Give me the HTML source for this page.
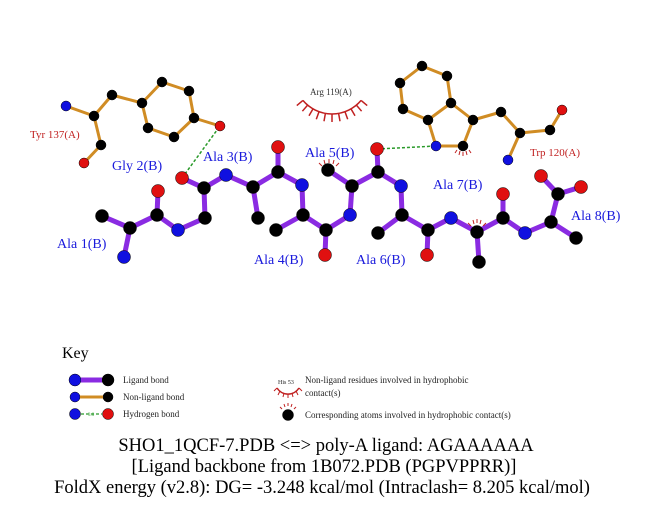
<!DOCTYPE html>
<html><head><meta charset="utf-8"><style>
html,body{margin:0;padding:0;background:#fff;}
svg{display:block;font-family:"Liberation Serif",serif;}
</style></head><body>
<svg width="651" height="511" viewBox="0 0 651 511" xmlns="http://www.w3.org/2000/svg">
<rect width="651" height="511" fill="#fff"/>
<!-- non-ligand bonds -->
<g stroke="#d08c24" stroke-width="3" fill="none" stroke-linejoin="round">
<polyline points="66,106 94,116 101,145 84,163"/>
<polyline points="94,116 112,95 142,103"/>
<polygon points="142,103 162,82 189,91 194,118 174,137 148,128"/>
<line x1="194" y1="118" x2="220" y2="126"/>
<polygon points="422,66 447,76 451,103 428,120 403,109 400,83"/>
<polyline points="451,103 473,120 463,146 436,146 428,120"/>
<polyline points="473,120 501,112 520,133 550,130 562,110"/>
<line x1="520" y1="133" x2="508" y2="160"/>
</g>
<!-- ligand bonds -->
<g stroke="#8a2be2" stroke-width="5" fill="none" stroke-linejoin="round" stroke-linecap="round">
<polyline points="124,257 130,228 157,215 178,230 205,218 204,188 226,175 253,187 278,172 302,185 303,215 326,230 350,215 352,186 378,172 401,186 402,215 428,230 451,218 477,232 503,218 525,233 551,222 558,194"/>
<line x1="102" y1="216" x2="130" y2="228"/>
<line x1="157" y1="215" x2="158" y2="191"/>
<line x1="204" y1="188" x2="182" y2="178"/>
<line x1="253" y1="187" x2="258" y2="218"/>
<line x1="278" y1="172" x2="278" y2="147"/>
<line x1="303" y1="215" x2="276" y2="230"/>
<line x1="326" y1="230" x2="325" y2="255"/>
<line x1="352" y1="186" x2="328" y2="170"/>
<line x1="378" y1="172" x2="377" y2="149"/>
<line x1="402" y1="215" x2="378" y2="233"/>
<line x1="428" y1="230" x2="427" y2="255"/>
<line x1="477" y1="232" x2="479" y2="262"/>
<line x1="503" y1="218" x2="503" y2="194"/>
<line x1="551" y1="222" x2="576" y2="238"/>
<line x1="558" y1="194" x2="541" y2="176"/>
<line x1="558" y1="194" x2="581" y2="187"/>
</g>
<!-- H bonds -->
<g stroke="#2a9a2a" stroke-width="1.5" stroke-dasharray="3,2">
<line x1="182" y1="178" x2="220" y2="126"/>
<line x1="377" y1="149" x2="436" y2="146"/>
</g>
<!-- hydrophobic eyelashes -->
<g stroke="#c02020" stroke-width="1.5" fill="none">
<path d="M302.9,100.4 A38,38 0 0 0 361.1,100.4"/>
<path d="M361.1,100.4L367.2,105.6M356.4,105.1L361.6,111.2M351,108.9L355,115.8M345,111.7L347.7,119.2M338.6,113.4L340,121.3M332,114L332,122M325.4,113.4L324,121.3M319,111.7L316.3,119.2M313,108.9L309,115.8M307.6,105.1L302.4,111.2M302.9,100.4L296.8,105.6"/>
<g stroke-width="1">
<path d="M322,166l-3,-3M325,164l-1,-4M329,163l0,-4M333,164l1,-4M336,166l3,-3"/>
<path d="M457,150l-2,3M460,151l-1,4M463,152l0,4M466,151l1,4M469,150l2,3"/>
<path d="M471,226l-3,-3M474,224l-1,-4M477,223l0,-4M480,224l1,-4M483,226l3,-3"/>
<path d="M282,409l-2,-2M285,407l-1,-3M288,406l0,-3M291,407l1,-3M294,409l2,-2"/>
</g>
<path d="M277,388 A13,13 0 0 0 299,388" stroke-width="1.5"/>
<path d="M277,388l-3,3M280,391l-2,4M284,393l-1,4M288,394l0,4M292,393l1,4M296,391l2,4M299,388l3,3" stroke-width="1"/>
</g>
<!-- atoms -->
<g stroke="#000" stroke-width="0.5">
<g fill="#000">
<circle cx="102" cy="216" r="6.5"/><circle cx="130" cy="228" r="6.5"/><circle cx="157" cy="215" r="6.5"/>
<circle cx="205" cy="218" r="6.5"/><circle cx="204" cy="188" r="6.5"/><circle cx="253" cy="187" r="6.5"/>
<circle cx="258" cy="218" r="6.5"/><circle cx="278" cy="172" r="6.5"/><circle cx="303" cy="215" r="6.5"/>
<circle cx="276" cy="230" r="6.5"/><circle cx="326" cy="230" r="6.5"/><circle cx="352" cy="186" r="6.5"/>
<circle cx="328" cy="170" r="6.5"/><circle cx="378" cy="172" r="6.5"/><circle cx="402" cy="215" r="6.5"/>
<circle cx="378" cy="233" r="6.5"/><circle cx="428" cy="230" r="6.5"/><circle cx="477" cy="232" r="6.5"/>
<circle cx="479" cy="262" r="6.5"/><circle cx="503" cy="218" r="6.5"/><circle cx="551" cy="222" r="6.5"/>
<circle cx="576" cy="238" r="6.5"/><circle cx="558" cy="194" r="6.5"/>
<circle cx="94" cy="116" r="5"/><circle cx="101" cy="145" r="5"/><circle cx="112" cy="95" r="5"/>
<circle cx="142" cy="103" r="5"/><circle cx="162" cy="82" r="5"/><circle cx="189" cy="91" r="5"/>
<circle cx="194" cy="118" r="5"/><circle cx="174" cy="137" r="5"/><circle cx="148" cy="128" r="5"/>
<circle cx="422" cy="66" r="5"/><circle cx="447" cy="76" r="5"/><circle cx="451" cy="103" r="5"/>
<circle cx="428" cy="120" r="5"/><circle cx="403" cy="109" r="5"/><circle cx="400" cy="83" r="5"/>
<circle cx="473" cy="120" r="5"/><circle cx="463" cy="146" r="5"/><circle cx="501" cy="112" r="5"/>
<circle cx="520" cy="133" r="5"/><circle cx="550" cy="130" r="5"/>
<circle cx="108" cy="380" r="6"/><circle cx="108" cy="397" r="5"/><circle cx="288" cy="415" r="5.5"/>
</g>
<g fill="#1010e0">
<circle cx="124" cy="257" r="6.5"/><circle cx="178" cy="230" r="6.5"/><circle cx="226" cy="175" r="6.5"/>
<circle cx="302" cy="185" r="6.5"/><circle cx="350" cy="215" r="6.5"/><circle cx="401" cy="186" r="6.5"/>
<circle cx="451" cy="218" r="6.5"/><circle cx="525" cy="233" r="6.5"/>
<circle cx="66" cy="106" r="5"/><circle cx="436" cy="146" r="5"/><circle cx="508" cy="160" r="5"/>
<circle cx="75" cy="380" r="6"/><circle cx="75" cy="397" r="5"/><circle cx="75" cy="414" r="5.5"/>
</g>
<g fill="#e01010">
<circle cx="158" cy="191" r="6.5"/><circle cx="182" cy="178" r="6.5"/><circle cx="278" cy="147" r="6.5"/>
<circle cx="325" cy="255" r="6.5"/><circle cx="377" cy="149" r="6.5"/><circle cx="427" cy="255" r="6.5"/>
<circle cx="503" cy="194" r="6.5"/><circle cx="541" cy="176" r="6.5"/><circle cx="581" cy="187" r="6.5"/>
<circle cx="84" cy="163" r="5"/><circle cx="220" cy="126" r="5"/><circle cx="562" cy="110" r="5"/>
<circle cx="108" cy="414" r="5.5"/>
</g>
</g>
<!-- key bonds -->
<line x1="81" y1="380" x2="102" y2="380" stroke="#8a2be2" stroke-width="5"/>
<line x1="80" y1="397" x2="103" y2="397" stroke="#d08c24" stroke-width="3"/>
<line x1="81" y1="414" x2="102" y2="414" stroke="#2a9a2a" stroke-width="1.2" stroke-dasharray="3,2"/>
<!-- labels -->
<g font-size="14" fill="#1a1adc">
<text x="112" y="170">Gly 2(B)</text>
<text x="203" y="161">Ala 3(B)</text>
<text x="305" y="157">Ala 5(B)</text>
<text x="433" y="189">Ala 7(B)</text>
<text x="571" y="220">Ala 8(B)</text>
<text x="57" y="248">Ala 1(B)</text>
<text x="254" y="264">Ala 4(B)</text>
<text x="356" y="264">Ala 6(B)</text>
</g>
<g font-size="11" fill="#c02020">
<text x="30" y="138">Tyr 137(A)</text>
<text x="530" y="156">Trp 120(A)</text>
</g>
<text x="310" y="95" font-size="9" fill="#333">Arg 119(A)</text>
<text x="62" y="358" font-size="16" fill="#000">Key</text>
<g font-size="9" fill="#222">
<text x="123" y="383">Ligand bond</text>
<text x="123" y="400">Non-ligand bond</text>
<text x="123" y="417">Hydrogen bond</text>
<text x="305" y="383">Non-ligand residues involved in hydrophobic</text>
<text x="305" y="396">contact(s)</text>
<text x="305" y="418">Corresponding atoms involved in hydrophobic contact(s)</text>
<text x="278" y="384" font-size="6">His 53</text>
<text x="88" y="416" font-size="5" fill="#2a9a2a">3.0</text>
</g>
<g font-size="18.5" fill="#000" text-anchor="middle">
<text x="326" y="451">SHO1_1QCF-7.PDB &lt;=&gt; poly-A ligand: AGAAAAAA</text>
<text x="324" y="472">[Ligand backbone from 1B072.PDB (PGPVPPRR)]</text>
<text x="322" y="493">FoldX energy (v2.8): DG= -3.248 kcal/mol (Intraclash= 8.205 kcal/mol)</text>
</g>
</svg>
</body></html>
